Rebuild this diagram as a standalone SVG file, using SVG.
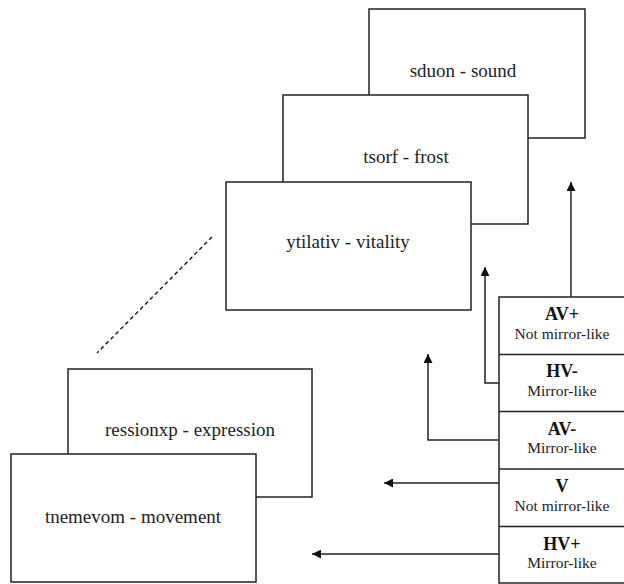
<svg xmlns="http://www.w3.org/2000/svg" width="624" height="584" viewBox="0 0 624 584">
<defs>
<style>
.box{fill:#fff;stroke:#222;stroke-width:1.5}
.lbl{font-family:"Liberation Serif","Times New Roman",serif;font-size:19px;fill:#222;text-anchor:middle}
.b{font-family:"Liberation Serif","Times New Roman",serif;font-size:18px;font-weight:bold;fill:#111;text-anchor:middle}
.s{font-family:"Liberation Serif","Times New Roman",serif;font-size:15.5px;fill:#222;text-anchor:middle}
.ln{fill:none;stroke:#222;stroke-width:1.5}
.sep{stroke:#222;stroke-width:1.5}
</style>
<marker id="arr" viewBox="0 0 10 10" refX="10" refY="5" markerWidth="9" markerHeight="9" markerUnits="userSpaceOnUse" orient="auto">
<path d="M0,0 L10,5 L0,10 Z" fill="#111"/>
</marker>
</defs>
<rect width="624" height="584" fill="#fff"/>
<g id="sound"><rect class="box" x="369" y="9" width="216" height="129"/><text class="lbl" x="463" y="77">sduon - sound</text></g>
<g id="frost"><rect class="box" x="283" y="95" width="245" height="129"/><text class="lbl" x="406" y="163">tsorf - frost</text></g>
<g id="vitality"><rect class="box" x="226" y="182" width="245" height="128"/><text class="lbl" x="348" y="248">ytilativ - vitality</text></g>
<g id="expression"><rect class="box" x="68" y="369" width="244" height="128"/><text class="lbl" x="190" y="436">ressionxp - expression</text></g>
<g id="movement"><rect class="box" x="11" y="454" width="245" height="128"/><text class="lbl" x="133" y="523">tnemevom - movement</text></g>
<g id="panel">
<rect class="box" x="499" y="297" width="130" height="286"/>
<line class="sep" x1="499" y1="354.5" x2="624" y2="354.5"/>
<line class="sep" x1="499" y1="411.5" x2="624" y2="411.5"/>
<line class="sep" x1="499" y1="469" x2="624" y2="469"/>
<line class="sep" x1="499" y1="526.5" x2="624" y2="526.5"/>
<g id="row-avplus"><text class="b" x="562" y="320">AV+</text><text class="s" x="562" y="339">Not mirror-like</text></g>
<g id="row-hvminus"><text class="b" x="562" y="377">HV-</text><text class="s" x="562" y="396">Mirror-like</text></g>
<g id="row-avminus"><text class="b" x="562" y="435">AV-</text><text class="s" x="562" y="453">Mirror-like</text></g>
<g id="row-v"><text class="b" x="562" y="492">V</text><text class="s" x="562" y="511">Not mirror-like</text></g>
<g id="row-hvplus"><text class="b" x="562" y="550">HV+</text><text class="s" x="562" y="568">Mirror-like</text></g>
</g>
<g id="connectors">
<line class="ln" x1="212" y1="237" x2="97" y2="353" stroke-dasharray="4,3"/>
<path class="ln" d="M571,297 L571,182" marker-end="url(#arr)"/>
<path class="ln" d="M499,383 L485,383 L485,267" marker-end="url(#arr)"/>
<path class="ln" d="M499,440 L428,440 L428,354" marker-end="url(#arr)"/>
<path class="ln" d="M499,483 L384,483" marker-end="url(#arr)"/>
<path class="ln" d="M499,554 L312,554" marker-end="url(#arr)"/>
</g>
</svg>
